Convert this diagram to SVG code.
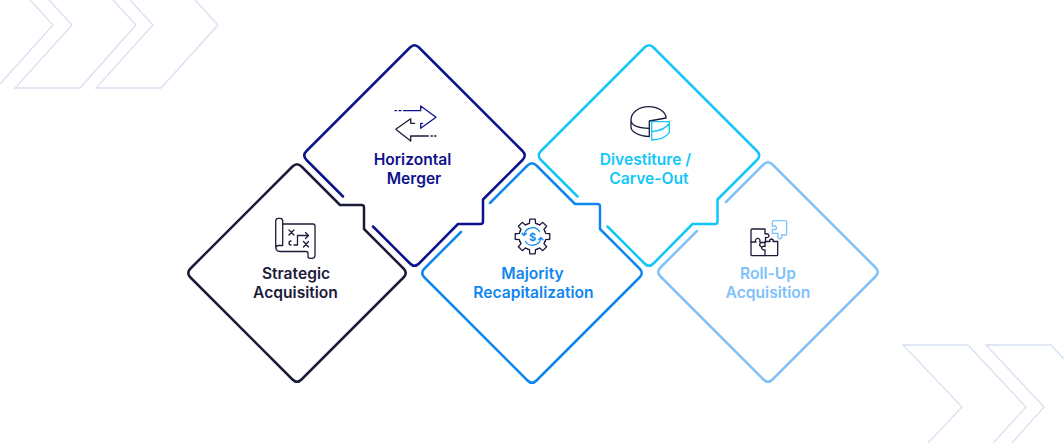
<svg xmlns="http://www.w3.org/2000/svg" width="1064" height="443" viewBox="0 0 1064 443">
<style>
.bg{fill:none;stroke:#d9e0f1;stroke-width:1.3}
.o{fill:none;stroke-width:2.5;stroke-linejoin:round;stroke-linecap:round}
.i{fill:none;stroke-width:1.3;stroke-linejoin:round;stroke-linecap:round}
.t{font-family:"Inter","Liberation Sans",sans-serif;font-size:15.6px;font-weight:600;text-anchor:middle}
.dk{stroke:#1b1b3a}.nv{stroke:#0c128c}.bl{stroke:#0f86f0}.cy{stroke:#12c6f8}.lb{stroke:#7fc1fb}
.fdk{fill:#1b1b3a}.fnv{fill:#0c128c}.fbl{fill:#0f86f0}.fcy{fill:#12c6f8}.flb{fill:#7fc1fb}
</style>
<defs>
<path id="tooth" d="M-5.17,-12.47L-3.04,-13.15L-2.74,-17.28L2.74,-17.28L3.04,-13.15L5.17,-12.47"/>
</defs>
<g id="background">
<path class="bg" d="M30,0L53,25L0,84"/>
<path class="bg" d="M49,0L72,25L15,88H80L136,25L113,0"/>
<path class="bg" d="M130,0L153,25L96,88H161L218,25L195,0"/>
<path class="bg" d="M928,443L962,407L903,345H968L1026,407L993,443"/>
<path class="bg" d="M1012,443L1044,407L986,345H1051L1064,359"/>
</g>
<g id="connectors"></g>
<g id="strategic">
<path class="o dk" d="M292.500,166.500Q297,162 301.500,166.500L340,205H361.500Q364,205 364,207.500V229L403.500,268.500Q408,273 403.500,277.500L301.500,379.500Q297,384 292.500,379.500L190.500,277.500Q186,273 190.500,268.500Z"/>
<g class="i dk">
<path d="M282.700,224V221Q282.700,218.300 280,218.300H278.400Q275.700,218.300 275.700,221V246Q275.700,251.500 280,251.500H306Q308,251.500 308,253.500V256.500Q308,258.300 310,258.300H312Q315,258.300 315,255V226Q315,224 313,224H282.700M282.700,224V245.500H278.500Q275.700,245.500 275.700,248"/>
<path d="M289,230L294,235M294,230L289,235M303.500,241.500L308.500,247M308.500,241.500L303.500,247"/>
<path d="M291,245Q289,245 289,243Q289,241 291,241M294,245H297.500V235.500H308.500M305.500,232.500L308.500,235.500L305.500,238.500"/>
</g>
<text class="t fdk" x="296" y="278.500">Strategic</text>
<text class="t fdk" x="295.500" y="297.500">Acquisition</text>
</g>
<g id="horizontal-merger">
<path class="o nv" d="M343,196.500L306.500,160Q302,155.500 306.500,151L410,47.500Q414.500,43 419,47.500L522.500,151Q527,155.500 522.500,160L483,199.500V221.500Q483,224 480.500,224H458L419,263.500Q414.500,268 410,263.500L373,226.500"/>
<g class="i nv">
<path d="M395,110.700H396.500M399,110.700H401M403.500,110.700H420.700V106L436,117.300L420.700,128.300V123.300H422.500"/>
</g>
<g class="i dk">
<path d="M414.500,123.300H410.700V118.700L395.700,129.300L410.700,141V136H428.300M431,136H432.500M434.500,136H436"/>
</g>
<text class="t fnv" x="412.500" y="164.500">Horizontal</text>
<text class="t fnv" x="414" y="183.500">Merger</text>
</g>
<g id="majority-recapitalization">
<path class="o bl" d="M490,203L527.500,165.500Q532,161 536.500,165.500L575,204H597.500Q600,204 600,206.500V229L639.500,268.500Q644,273 639.500,277.500L536.500,380.500Q532,385 527.500,380.500L424.500,277.500Q420,273 424.500,268.500L461,232"/>
<g class="i dk" transform="translate(532.500,236.500)">
<use href="#tooth"/><use href="#tooth" transform="rotate(45)"/><use href="#tooth" transform="rotate(90)"/><use href="#tooth" transform="rotate(135)"/><use href="#tooth" transform="rotate(180)"/><use href="#tooth" transform="rotate(225)"/><use href="#tooth" transform="rotate(270)"/><use href="#tooth" transform="rotate(315)"/>
</g>
<g class="i bl" transform="translate(532.500,236.500)">
<path d="M-8.500,-1A8.500,8.500 0 0 1 7,-5M-8.500,-1L-10.500,-3.200M-8.500,-1L-6.300,-3M8.500,1A8.500,8.500 0 0 1 -7,5M8.500,1L6.400,3M8.500,1L10.500,3.200"/>
</g>
<text x="532.500" y="240.500" style="font-family:'Inter','Liberation Sans',sans-serif;font-size:11px;font-weight:700;text-anchor:middle" class="fbl">$</text>
<text class="t fbl" x="532.500" y="278.500">Majority</text>
<text class="t fbl" x="533.500" y="297.500">Recapitalization</text>
</g>
<g id="divestiture">
<path class="o cy" d="M577.500,196.500L541,160Q536.500,155.500 541,151L644.500,47.500Q649,43 653.500,47.500L757,151Q761.500,155.500 757,160L717.500,199.500V221.500Q717.500,224 715,224H692.500L653.500,263.500Q649,268 644.500,263.500L607.500,226.500"/>
<g class="i dk">
<path d="M666,118C666,111 657,106.700 648.500,106.700C639,106.700 631,112.500 631,120C631,125 638,128 649.300,128.300V121ZM631,120V127C631,132 639,136 649.300,136.700V128.300"/>
</g>
<g class="i cy">
<path d="M651.700,121.700H669.300V132.700C666,137 659,140 651.700,140ZM651.700,131.700C659,131 666,128 669.300,123.500"/>
</g>
<text class="t fcy" x="645.500" y="164.500">Divestiture /</text>
<text class="t fcy" x="649" y="183.500">Carve-Out</text>
</g>
<g id="roll-up-acquisition">
<path class="o lb" d="M726,202L763.500,164.500Q768,160 772.500,164.500L875.500,267.500Q880,272 875.500,276.500L772.500,379.500Q768,384 763.500,379.500L660.500,276.500Q656,272 660.500,267.500L697,231"/>
<g class="i dk">
<path d="M751,230Q751,229 752,229H765V234Q768,233 769,235.500Q769,238 765.500,237.500V241.500H770Q769,239.500 771.500,239Q774,239.500 773,241.500H777.700V254.700Q777.700,255.700 776.700,255.700H752Q751,255.700 751,254.700Z"/>
<path d="M751,242H756Q754.500,240 757,238.500Q760,238 760,241Q759,242 761,242.500H765.500M765,241.500V246.500Q762.500,245.500 761.500,248Q762.500,250.500 765,250V255.700M761,242.500Q758,245 761.500,247"/>
</g>
<g class="i lb">
<path d="M772.300,222Q772.300,220.700 773.600,220.700H785.400Q786.700,220.700 786.700,222V234Q786.700,235 785.700,235H781.500Q782.500,238 780,239Q777,238.500 778,235V233.300H772.300V229.500H775.500Q777.500,228 775.500,226H772.300Z"/>
</g>
<text class="t flb" x="768" y="278.500">Roll-Up</text>
<text class="t flb" x="768" y="297.500">Acquisition</text>
</g>
</svg>
